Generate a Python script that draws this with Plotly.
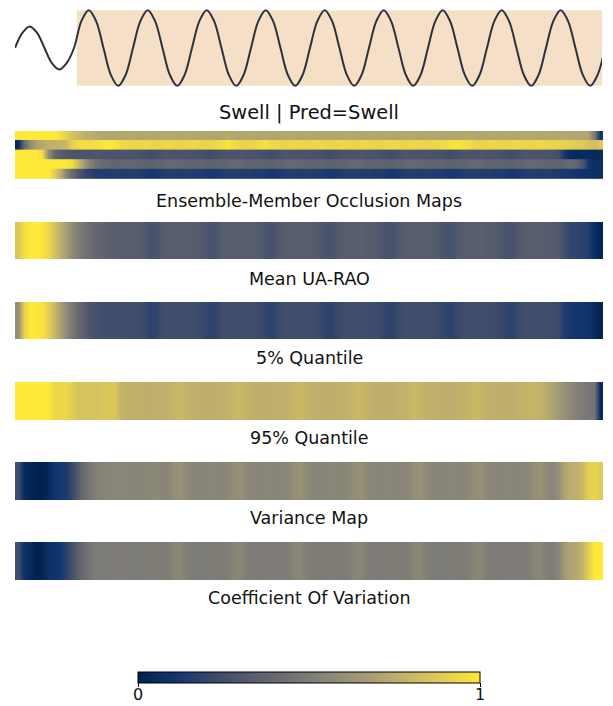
import plotly.graph_objects as go

# The page body adds an 8 px margin, so the figure is drawn 8 px smaller
# and every reference pixel position is shifted by that offset.
PAGE_W, PAGE_H = 613, 706
OFF = 8
W, H = PAGE_W - OFF, PAGE_H - OFF

# ---------------- data ----------------
top_title = "Swell | Pred=Swell"

# input signal sampled every 1/8 of a wave period (smoothed with a spline)
wave_signal = [
    0.00, 0.40, 0.57, 0.40, 0.00, -0.40, -0.57, -0.40, 0.00,
    0.71, 1.00, 0.71, 0.00, -0.71, -1.00, -0.71,
    0.00, 0.71, 1.00, 0.71, 0.00, -0.71, -1.00, -0.71,
    0.00, 0.71, 1.00, 0.71, 0.00, -0.71, -1.00, -0.71,
    0.00, 0.71, 1.00, 0.71, 0.00, -0.71, -1.00, -0.71,
    0.00, 0.71, 1.00, 0.71, 0.00, -0.71, -1.00, -0.71,
    0.00, 0.71, 1.00, 0.71, 0.00, -0.71, -1.00, -0.71,
    0.00, 0.71, 1.00, 0.71, 0.00, -0.71, -1.00, -0.71,
    0.00, 0.71, 1.00, 0.71, 0.00, -0.71, -1.00, -0.71,
    0.00, 0.71, 1.00, 0.71, 0.00, -0.71, -1.00, -0.71,
    0.00,
]
signal_end = 79.6
occlusion_start = 8.4

member_a = [
    1.00, 1.00, 1.00, 1.00, 1.00, 1.00, 1.00, 0.96, 0.90, 0.85,
    0.80, 0.77, 0.75, 0.73, 0.72, 0.72, 0.71, 0.72, 0.73, 0.72,
    0.71, 0.72, 0.72, 0.71, 0.72, 0.73, 0.72, 0.71, 0.72, 0.72,
    0.71, 0.72, 0.72, 0.71, 0.72, 0.73, 0.72, 0.71, 0.72, 0.72,
    0.71, 0.72, 0.72, 0.71, 0.72, 0.73, 0.72, 0.71, 0.72, 0.72,
    0.71, 0.72, 0.72, 0.71, 0.72, 0.73, 0.72, 0.71, 0.72, 0.72,
    0.71, 0.72, 0.72, 0.71, 0.72, 0.73, 0.72, 0.71, 0.72, 0.72,
    0.71, 0.72, 0.72, 0.71, 0.72, 0.73, 0.72, 0.71, 0.72, 0.72,
    0.71, 0.72, 0.72, 0.71, 0.72, 0.73, 0.72, 0.71, 0.72, 0.72,
    0.72, 0.72, 0.71, 0.72, 0.72, 0.70, 0.50, 0.10,
]
member_b = [
    0.05, 0.40, 0.58, 0.68, 0.73, 0.76, 0.77, 0.78, 0.80, 0.90,
    0.95, 0.96, 0.95, 0.96, 0.98, 1.00, 0.99, 0.95, 0.94, 0.93,
    0.93, 0.94, 0.93, 0.92, 0.93, 0.94, 0.93, 0.92, 0.93, 0.94,
    0.93, 0.92, 0.93, 0.94, 0.96, 0.98, 0.95, 0.93, 0.92, 0.93,
    0.95, 0.97, 0.94, 0.93, 0.92, 0.93, 0.94, 0.93, 0.92, 0.93,
    0.94, 0.93, 0.92, 0.93, 0.94, 0.93, 0.92, 0.93, 0.94, 0.93,
    0.92, 0.93, 0.94, 0.93, 0.92, 0.93, 0.94, 0.93, 0.92, 0.93,
    0.94, 0.95, 0.97, 0.98, 0.97, 0.95, 0.93, 0.92, 0.93, 0.94,
    0.93, 0.92, 0.93, 0.94, 0.93, 0.92, 0.93, 0.94, 0.93, 0.92,
    0.92, 0.91, 0.90, 0.89, 0.88, 0.85, 0.82, 0.88,
]
member_c = [
    1.00, 1.00, 1.00, 1.00, 0.95, 0.60, 0.40, 0.33, 0.30, 0.29,
    0.28, 0.29, 0.28, 0.29, 0.28, 0.29, 0.28, 0.28, 0.29, 0.28,
    0.28, 0.26, 0.24, 0.26, 0.28, 0.29, 0.28, 0.29, 0.28, 0.28,
    0.27, 0.26, 0.24, 0.26, 0.28, 0.29, 0.28, 0.29, 0.28, 0.28,
    0.27, 0.26, 0.24, 0.26, 0.28, 0.29, 0.28, 0.29, 0.28, 0.28,
    0.27, 0.26, 0.24, 0.26, 0.28, 0.29, 0.28, 0.29, 0.28, 0.28,
    0.27, 0.26, 0.24, 0.26, 0.28, 0.29, 0.28, 0.29, 0.28, 0.28,
    0.27, 0.26, 0.24, 0.26, 0.28, 0.29, 0.28, 0.29, 0.28, 0.28,
    0.27, 0.26, 0.24, 0.26, 0.28, 0.29, 0.28, 0.29, 0.28, 0.28,
    0.25, 0.12, 0.06, 0.05, 0.06, 0.05, 0.04, 0.05,
]
member_d = [
    1.00, 1.00, 1.00, 1.00, 1.00, 1.00, 1.00, 1.00, 1.00, 0.95,
    0.80, 0.65, 0.52, 0.45, 0.41, 0.39, 0.38, 0.38, 0.39, 0.38,
    0.38, 0.37, 0.36, 0.37, 0.38, 0.39, 0.40, 0.39, 0.38, 0.38,
    0.38, 0.37, 0.36, 0.37, 0.38, 0.39, 0.40, 0.39, 0.38, 0.38,
    0.38, 0.37, 0.36, 0.37, 0.38, 0.39, 0.40, 0.39, 0.38, 0.38,
    0.38, 0.37, 0.36, 0.37, 0.38, 0.39, 0.40, 0.39, 0.38, 0.38,
    0.38, 0.37, 0.36, 0.37, 0.38, 0.39, 0.40, 0.39, 0.38, 0.38,
    0.38, 0.37, 0.36, 0.37, 0.38, 0.39, 0.40, 0.39, 0.38, 0.38,
    0.38, 0.37, 0.36, 0.37, 0.38, 0.39, 0.40, 0.39, 0.38, 0.38,
    0.38, 0.39, 0.40, 0.38, 0.30, 0.12, 0.07, 0.07,
]
member_e = [
    1.00, 1.00, 1.00, 1.00, 1.00, 1.00, 0.90, 0.75, 0.55, 0.40,
    0.30, 0.22, 0.18, 0.16, 0.16, 0.15, 0.16, 0.16, 0.15, 0.16,
    0.15, 0.14, 0.12, 0.13, 0.15, 0.16, 0.16, 0.15, 0.16, 0.15,
    0.15, 0.14, 0.12, 0.13, 0.15, 0.16, 0.16, 0.15, 0.16, 0.15,
    0.15, 0.14, 0.12, 0.13, 0.15, 0.16, 0.16, 0.15, 0.16, 0.15,
    0.15, 0.14, 0.12, 0.13, 0.15, 0.16, 0.16, 0.15, 0.16, 0.15,
    0.15, 0.14, 0.12, 0.13, 0.15, 0.16, 0.16, 0.15, 0.16, 0.15,
    0.15, 0.14, 0.12, 0.13, 0.15, 0.16, 0.16, 0.15, 0.16, 0.15,
    0.15, 0.14, 0.12, 0.13, 0.15, 0.16, 0.16, 0.15, 0.16, 0.15,
    0.14, 0.13, 0.12, 0.11, 0.10, 0.09, 0.07, 0.08,
]

mean_map = [
    0.86, 0.97, 1.00, 1.00, 0.99, 0.93, 0.85, 0.76, 0.67, 0.58,
    0.51, 0.46, 0.42, 0.39, 0.37, 0.35, 0.34, 0.34, 0.33, 0.34,
    0.33, 0.31, 0.27, 0.28, 0.32, 0.34, 0.33, 0.34, 0.34, 0.33,
    0.32, 0.30, 0.27, 0.29, 0.33, 0.34, 0.33, 0.34, 0.33, 0.34,
    0.32, 0.29, 0.27, 0.30, 0.33, 0.34, 0.33, 0.34, 0.34, 0.33,
    0.31, 0.29, 0.27, 0.30, 0.33, 0.34, 0.33, 0.34, 0.33, 0.33,
    0.31, 0.28, 0.27, 0.30, 0.33, 0.34, 0.33, 0.34, 0.34, 0.33,
    0.31, 0.28, 0.27, 0.30, 0.33, 0.34, 0.33, 0.34, 0.33, 0.33,
    0.31, 0.28, 0.27, 0.30, 0.33, 0.34, 0.33, 0.34, 0.33, 0.33,
    0.31, 0.25, 0.20, 0.19, 0.18, 0.15, 0.07, 0.02,
]
q05_map = [
    0.60, 0.92, 1.00, 1.00, 0.98, 0.90, 0.80, 0.69, 0.58, 0.48,
    0.40, 0.34, 0.29, 0.26, 0.25, 0.25, 0.25, 0.25, 0.25, 0.24,
    0.24, 0.22, 0.18, 0.20, 0.24, 0.25, 0.24, 0.25, 0.25, 0.24,
    0.23, 0.21, 0.18, 0.20, 0.24, 0.25, 0.24, 0.25, 0.24, 0.25,
    0.23, 0.21, 0.18, 0.21, 0.24, 0.25, 0.24, 0.25, 0.25, 0.24,
    0.23, 0.20, 0.18, 0.21, 0.24, 0.25, 0.24, 0.25, 0.24, 0.24,
    0.23, 0.20, 0.18, 0.21, 0.24, 0.25, 0.24, 0.25, 0.25, 0.24,
    0.22, 0.20, 0.18, 0.21, 0.24, 0.25, 0.24, 0.25, 0.24, 0.24,
    0.22, 0.20, 0.18, 0.21, 0.24, 0.25, 0.24, 0.25, 0.24, 0.24,
    0.22, 0.15, 0.12, 0.11, 0.11, 0.10, 0.05, 0.01,
]
q95_map = [
    1.00, 1.00, 1.00, 1.00, 1.00, 1.00, 0.93, 0.93, 0.93, 0.89,
    0.85, 0.85, 0.85, 0.85, 0.86, 0.87, 0.86, 0.79, 0.77, 0.76,
    0.76, 0.76, 0.75, 0.76, 0.76, 0.77, 0.79, 0.80, 0.78, 0.76,
    0.76, 0.75, 0.75, 0.76, 0.76, 0.77, 0.79, 0.80, 0.78, 0.76,
    0.76, 0.75, 0.75, 0.76, 0.76, 0.77, 0.79, 0.80, 0.78, 0.76,
    0.76, 0.75, 0.75, 0.76, 0.76, 0.77, 0.79, 0.80, 0.78, 0.76,
    0.76, 0.75, 0.75, 0.76, 0.77, 0.78, 0.80, 0.79, 0.77, 0.76,
    0.76, 0.75, 0.75, 0.76, 0.77, 0.78, 0.80, 0.79, 0.77, 0.76,
    0.76, 0.75, 0.75, 0.76, 0.77, 0.78, 0.79, 0.77, 0.74, 0.70,
    0.66, 0.61, 0.57, 0.53, 0.50, 0.48, 0.46, 0.05,
]
variance_map = [
    0.25, 0.05, 0.02, 0.00, 0.00, 0.04, 0.10, 0.12, 0.14, 0.22,
    0.33, 0.42, 0.48, 0.52, 0.54, 0.55, 0.55, 0.56, 0.55, 0.55,
    0.55, 0.55, 0.56, 0.57, 0.55, 0.55, 0.60, 0.61, 0.57, 0.55,
    0.55, 0.55, 0.56, 0.55, 0.55, 0.56, 0.60, 0.61, 0.57, 0.55,
    0.55, 0.55, 0.56, 0.55, 0.55, 0.56, 0.60, 0.61, 0.57, 0.55,
    0.55, 0.55, 0.56, 0.55, 0.55, 0.56, 0.60, 0.61, 0.57, 0.55,
    0.55, 0.55, 0.56, 0.55, 0.55, 0.56, 0.60, 0.61, 0.57, 0.55,
    0.55, 0.55, 0.56, 0.55, 0.55, 0.56, 0.60, 0.61, 0.57, 0.55,
    0.55, 0.55, 0.56, 0.55, 0.55, 0.56, 0.60, 0.61, 0.57, 0.55,
    0.60, 0.70, 0.75, 0.76, 0.80, 0.90, 0.92, 0.88,
]
cov_map = [
    0.25, 0.08, 0.05, 0.00, 0.02, 0.08, 0.10, 0.12, 0.18, 0.27,
    0.35, 0.42, 0.47, 0.50, 0.50, 0.50, 0.50, 0.51, 0.50, 0.50,
    0.50, 0.50, 0.51, 0.50, 0.50, 0.51, 0.55, 0.56, 0.52, 0.50,
    0.50, 0.50, 0.51, 0.50, 0.50, 0.51, 0.55, 0.56, 0.52, 0.50,
    0.50, 0.50, 0.51, 0.50, 0.50, 0.51, 0.55, 0.56, 0.52, 0.50,
    0.50, 0.50, 0.51, 0.50, 0.50, 0.51, 0.55, 0.56, 0.52, 0.50,
    0.50, 0.50, 0.51, 0.50, 0.50, 0.51, 0.55, 0.56, 0.52, 0.50,
    0.50, 0.50, 0.51, 0.50, 0.50, 0.51, 0.55, 0.56, 0.52, 0.50,
    0.50, 0.50, 0.51, 0.50, 0.50, 0.51, 0.55, 0.56, 0.52, 0.50,
    0.55, 0.65, 0.70, 0.72, 0.78, 0.90, 1.00, 1.00,
]

members = [member_a, member_b, member_c, member_d, member_e]
summary_maps = [mean_map, q05_map, q95_map, variance_map, cov_map]
panel_titles = ["Ensemble-Member Occlusion Maps", "Mean UA-RAO", "5% Quantile",
                "95% Quantile", "Variance Map", "Coefficient Of Variation"]
colorbar_ticks = [0, 1]
colorbar_labels = ["0", "1"]

# ---------------- layout helpers (reference pixel -> paper) ----------------
def fx(p):
    return (p - OFF) / W

def fy(p):
    return 1 - (p - OFF) / H

FONT = "DejaVu Sans"
TEXT = "#111111"
n_cols = len(mean_map)

fig = go.Figure()

# top panel: signal with occluded window
fig.add_trace(go.Scatter(
    y=wave_signal, mode="lines", line=dict(color="#2b323d", width=2, shape="spline"),
    xaxis="x", yaxis="y", showlegend=False, hoverinfo="skip"))
fig.add_shape(type="rect", xref="x", yref="y", x0=occlusion_start, x1=signal_end,
              y0=-1, y1=1, fillcolor="#f6dfc7", line=dict(width=0), layer="below")

layout_axes = dict(
    xaxis=dict(domain=[fx(15), fx(602)], range=[0, signal_end], visible=False, anchor="y"),
    yaxis=dict(domain=[fy(87), fy(9)], range=[-1.03, 1.03], visible=False, anchor="x"),
)

# heatmap panels (top, bottom pixel rows)
panel_px = [(131, 179), (222, 259), (302, 339), (382, 420), (462, 500), (542, 580)]

for i, (top, bot) in enumerate(panel_px):
    ax = i + 2
    layout_axes[f"xaxis{ax}"] = dict(domain=[fx(15), fx(603)], range=[-0.5, n_cols - 0.5],
                                     visible=False, anchor=f"y{ax}")
    nrows = len(members) if i == 0 else 1
    layout_axes[f"yaxis{ax}"] = dict(domain=[fy(bot), fy(top)], range=[nrows - 0.5, -0.5],
                                     visible=False, anchor=f"x{ax}")

# member rows drawn as slightly overlapping single-row strips (no hairline gaps)
for r, row in enumerate(members):
    fig.add_trace(go.Heatmap(z=[row], y0=r, dy=1.12, coloraxis="coloraxis", zsmooth="best",
                             xaxis="x2", yaxis="y2", hoverinfo="skip"))

for i, row in enumerate(summary_maps):
    ax = i + 3
    fig.add_trace(go.Heatmap(z=[row], y0=0, dy=1, coloraxis="coloraxis", zsmooth="best",
                             xaxis=f"x{ax}", yaxis=f"y{ax}", hoverinfo="skip"))

annotations = [dict(text=top_title, x=fx(309), y=fy(112), xref="paper", yref="paper",
                    showarrow=False, xanchor="center", yanchor="middle",
                    font=dict(family=FONT, size=19.4, color=TEXT))]
title_px = [201, 279, 358, 438, 518, 598]
for t, yy in zip(panel_titles, title_px):
    annotations.append(dict(text=t, x=fx(309), y=fy(yy), xref="paper", yref="paper",
                            showarrow=False, xanchor="center", yanchor="middle",
                            font=dict(family=FONT, size=17.5, color=TEXT)))

# colour-bar geometry (reference pixels)
CB_LEFT, CB_RIGHT, CB_TOP = 138, 480, 672
for v, lab in zip(colorbar_ticks, colorbar_labels):
    annotations.append(dict(text=lab, x=fx(CB_LEFT + v * (CB_RIGHT - CB_LEFT)), y=fy(694.5),
                            xref="paper", yref="paper", showarrow=False,
                            xanchor="center", yanchor="middle",
                            font=dict(family=FONT, size=16, color=TEXT)))

fig.update_layout(
    width=W, height=H, margin=dict(l=0, r=0, t=0, b=0, pad=0, autoexpand=False),
    paper_bgcolor="white", plot_bgcolor="white",
    showlegend=False,
    annotations=annotations,
    coloraxis=dict(
        colorscale="Cividis", cmin=0, cmax=1,
        colorbar=dict(
            orientation="h", x=fx((CB_LEFT + CB_RIGHT) / 2), xanchor="center",
            y=fy(CB_TOP), yanchor="top",
            len=(CB_RIGHT - CB_LEFT) / W, lenmode="fraction", thickness=11,
            thicknessmode="pixels", outlinewidth=1, outlinecolor="black", xpad=0, ypad=0,
            tickvals=colorbar_ticks, ticks="outside", showticklabels=False,
            ticklen=4, tickwidth=1, tickcolor="black",
        ),
    ),
    **layout_axes,
)

fig.write_html("out.html")
